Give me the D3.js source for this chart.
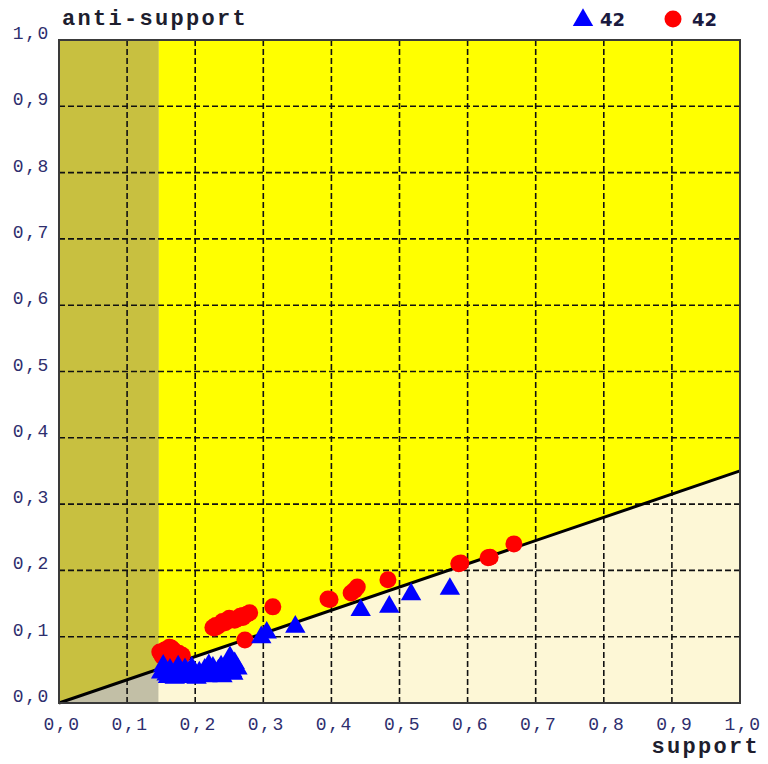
<!DOCTYPE html>
<html>
<head>
<meta charset="utf-8">
<script src="https://cdn.jsdelivr.net/npm/d3@7"></script>
<style>
  html, body { margin: 0; padding: 0; background: #ffffff; }
  svg { display: block; }
</style>
</head>
<body>
<svg id="chart" width="768" height="764"></svg>
<script>
// Threshold: anti-support = SLOPE * support; minimum support band below MIN_SUPPORT
const SLOPE = 0.35;
const MIN_SUPPORT = 0.146;

const ticks = [0, 0.1, 0.2, 0.3, 0.4, 0.5, 0.6, 0.7, 0.8, 0.9, 1.0];

// Rules of the first group (triangles): support and anti-support
const triangleSupport = [
  0.574, 0.517, 0.485, 0.443, 0.347, 0.305, 0.297,
  0.150, 0.153, 0.158, 0.163, 0.168, 0.172, 0.175, 0.181, 0.186, 0.190,
  0.195, 0.198, 0.202, 0.206, 0.210, 0.214, 0.218, 0.222, 0.226, 0.230,
  0.234, 0.238, 0.242, 0.246, 0.251, 0.254, 0.258, 0.262, 0.160, 0.185,
  0.200, 0.220, 0.240, 0.256, 0.170
];
const triangleAnti = [
  0.172, 0.164, 0.145, 0.140, 0.115, 0.106, 0.099,
  0.046, 0.056, 0.043, 0.050, 0.041, 0.047, 0.055, 0.044, 0.039, 0.046,
  0.053, 0.041, 0.038, 0.046, 0.042, 0.050, 0.040, 0.046, 0.053, 0.043,
  0.049, 0.055, 0.045, 0.052, 0.069, 0.048, 0.060, 0.052, 0.039, 0.051,
  0.045, 0.057, 0.040, 0.044, 0.038
];

// Rules of the second group (circles): support and anti-support
const circleSupport = [
  0.668, 0.633, 0.587, 0.483, 0.438, 0.429, 0.395, 0.314,
  0.280, 0.273, 0.270, 0.258, 0.250, 0.244, 0.232, 0.228,
  0.148, 0.155, 0.162, 0.168, 0.181, 0.172, 0.176, 0.152,
  0.236, 0.240, 0.262, 0.266, 0.276, 0.254, 0.248, 0.230,
  0.160, 0.165, 0.178, 0.150, 0.434, 0.630, 0.590, 0.398,
  0.270, 0.226
];
const circleAnti = [
  0.240, 0.220, 0.210, 0.186, 0.175, 0.166, 0.157, 0.145,
  0.136, 0.095, 0.132, 0.125, 0.128, 0.121, 0.115, 0.113,
  0.077, 0.080, 0.084, 0.080, 0.072, 0.068, 0.075, 0.070,
  0.118, 0.123, 0.127, 0.131, 0.134, 0.126, 0.124, 0.117,
  0.078, 0.083, 0.070, 0.074, 0.170, 0.219, 0.211, 0.156,
  0.129, 0.114
];

const legendCounts = [triangleSupport.length, circleSupport.length];

const svg = d3.select("#chart");
const plotLeft = 59, plotRight = 740, plotTop = 40, plotBottom = 703;

const x = d3.scaleLinear().domain([0, 1]).range([plotLeft, plotRight]);
const y = d3.scaleLinear().domain([0, 1]).range([plotBottom, plotTop]);

const line = d3.line().x(d => x(d[0])).y(d => y(d[1]));

// Background zones
svg.append("rect")
  .attr("x", x(0)).attr("y", y(1))
  .attr("width", x(1) - x(0)).attr("height", y(0) - y(1))
  .attr("fill", "#fdf7d6");

svg.append("path")
  .attr("d", line([[0, 0], [1, SLOPE], [1, 1], [0, 1]]) + "Z")
  .attr("fill", "#ffff00");

svg.append("rect")
  .attr("x", x(0)).attr("y", y(1))
  .attr("width", x(MIN_SUPPORT) - x(0)).attr("height", y(0) - y(1))
  .attr("fill", "#c2bfa6");

svg.append("path")
  .attr("d", line([[0, 0], [MIN_SUPPORT, MIN_SUPPORT * SLOPE], [MIN_SUPPORT, 1], [0, 1]]) + "Z")
  .attr("fill", "#c8c040");

// Dashed grid
const grid = svg.append("g")
  .attr("stroke", "#111")
  .attr("stroke-width", 1.6)
  .attr("stroke-dasharray", "6,3");

grid.selectAll("line.v").data(ticks.slice(1, -1)).join("line")
  .attr("class", "v")
  .attr("x1", d => x(d)).attr("x2", d => x(d))
  .attr("y1", y(0)).attr("y2", y(1));

grid.selectAll("line.h").data(ticks.slice(1, -1)).join("line")
  .attr("class", "h")
  .attr("x1", x(0)).attr("x2", x(1))
  .attr("y1", d => y(d)).attr("y2", d => y(d));

// Threshold line
svg.append("path")
  .attr("d", line([[0, 0], [1, SLOPE]]))
  .attr("stroke", "#000")
  .attr("stroke-width", 3)
  .attr("fill", "none");

// Circles
svg.append("g").selectAll("circle")
  .data(d3.zip(circleSupport, circleAnti))
  .join("circle")
  .attr("cx", d => x(d[0]))
  .attr("cy", d => y(d[1]))
  .attr("r", 8.5)
  .attr("fill", "#ff0000");

// Triangles
const tri = d3.symbol().type(d3.symbolTriangle).size(180);
svg.append("g").selectAll("path")
  .data(d3.zip(triangleSupport, triangleAnti))
  .join("path")
  .attr("d", tri)
  .attr("transform", d => `translate(${x(d[0])},${y(d[1])})`)
  .attr("fill", "#0000ff");

// Plot border
svg.append("rect")
  .attr("x", x(0)).attr("y", y(1))
  .attr("width", x(1) - x(0)).attr("height", y(0) - y(1))
  .attr("fill", "none")
  .attr("stroke", "#3a3a3a")
  .attr("stroke-width", 2);

// Tick labels
const fmt = d => d3.format(".1f")(d).replace(".", ",");
const labelFont = "'Courier New', 'Liberation Mono', monospace";

svg.append("g").selectAll("text")
  .data(ticks).join("text")
  .attr("x", d => x(d) + 3)
  .attr("y", 730)
  .attr("text-anchor", "middle")
  .attr("font-family", labelFont)
  .attr("font-size", 18)
  .attr("letter-spacing", 1.6)
  .attr("fill", "#2e2e6e")
  .text(fmt);

svg.append("g").selectAll("text")
  .data(ticks).join("text")
  .attr("x", 50)
  .attr("y", d => y(d) - 1)
  .attr("text-anchor", "end")
  .attr("font-family", labelFont)
  .attr("font-size", 18)
  .attr("letter-spacing", 1.6)
  .attr("fill", "#2e2e6e")
  .text(fmt);

// Axis titles
svg.append("text")
  .attr("x", 62).attr("y", 25)
  .attr("font-family", labelFont)
  .attr("font-weight", "bold")
  .attr("font-size", 22)
  .attr("letter-spacing", 2.3)
  .attr("fill", "#1e1e2e")
  .text("anti-support");

svg.append("text")
  .attr("x", 760).attr("y", 753)
  .attr("text-anchor", "end")
  .attr("font-family", labelFont)
  .attr("font-weight", "bold")
  .attr("font-size", 22)
  .attr("letter-spacing", 2.3)
  .attr("fill", "#1e1e2e")
  .text("support");

// Legend
const legend = svg.append("g");
legend.append("path")
  .attr("d", tri)
  .attr("transform", "translate(583,20)")
  .attr("fill", "#0000ff");
legend.append("text")
  .attr("x", 600).attr("y", 26)
  .attr("font-family", "'DejaVu Sans', Verdana, sans-serif")
  .attr("font-weight", "bold")
  .attr("font-size", 18)
  .attr("fill", "#1a1a40")
  .text(legendCounts[0]);
legend.append("circle")
  .attr("cx", 673).attr("cy", 19)
  .attr("r", 8.5)
  .attr("fill", "#ff0000");
legend.append("text")
  .attr("x", 692).attr("y", 26)
  .attr("font-family", "'DejaVu Sans', Verdana, sans-serif")
  .attr("font-weight", "bold")
  .attr("font-size", 18)
  .attr("fill", "#1a1a40")
  .text(legendCounts[1]);
</script>
</body>
</html>
